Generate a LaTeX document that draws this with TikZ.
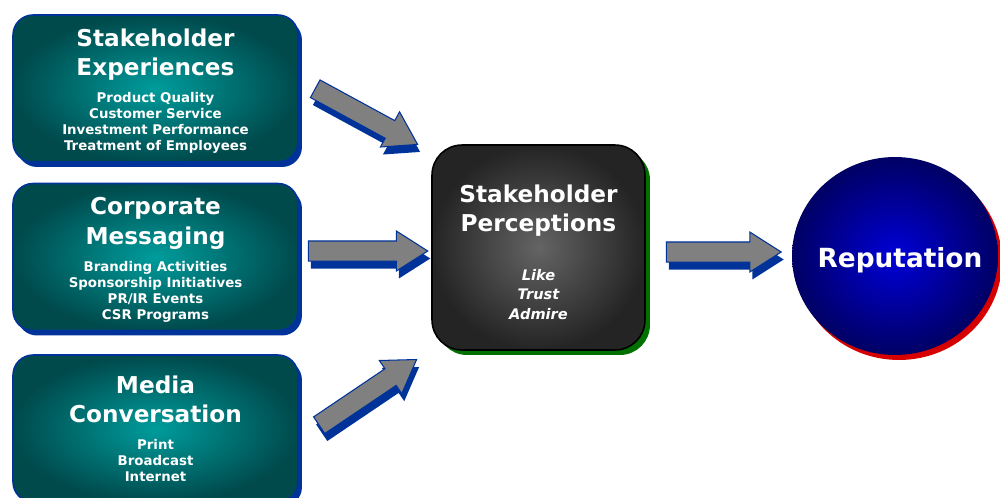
\documentclass[tikz,border=0pt]{standalone}
\usepackage{fontspec}
\setmainfont{DejaVu Sans}
\usetikzlibrary{arrows.meta, positioning, shapes.geometric, shapes.arrows, shadows, calc}

\definecolor{tealdark}{RGB}{0,74,76}
\definecolor{teallight}{RGB}{0,156,156}
\definecolor{rimblue}{RGB}{0,51,153}
\definecolor{greydark}{RGB}{36,36,36}
\definecolor{greylight}{RGB}{100,100,100}
\definecolor{shadegreen}{RGB}{0,112,0}
\definecolor{navydark}{RGB}{0,0,100}
\definecolor{navylight}{RGB}{0,0,215}
\definecolor{shadered}{RGB}{215,0,0}
\definecolor{arrowgrey}{RGB}{128,128,128}

\newcommand{\headfont}{\fontsize{13.2}{16.4}\selectfont\bfseries\upshape}
\newcommand{\itemfont}{\fontsize{7.6}{9.1}\selectfont\bfseries}
\newcommand{\feelfont}{\fontsize{8.3}{11.3}\selectfont\bfseries\itshape}

\begin{document}
\begin{tikzpicture}[x=0.02cm,y=-0.02cm,
  driver/.style={rectangle, rounded corners=0.4cm, minimum width=5.7cm, minimum height=2.94cm,
    draw=rimblue, line width=0.9pt, inner color=teallight, outer color=tealdark,
    text=white, align=center, font={\itemfont\lineskiplimit=-50pt},
    drop shadow={shadow xshift=0.08cm, shadow yshift=-0.1cm, fill=rimblue, opacity=1}},
  percbox/.style={rectangle, rounded corners=0.6cm, minimum width=4.26cm, minimum height=4.1cm,
    draw=black, line width=0.9pt, inner color=greylight, outer color=greydark,
    text=white, align=center, font={\feelfont\lineskiplimit=-50pt},
    drop shadow={shadow xshift=0.1cm, shadow yshift=-0.1cm, fill=shadegreen, opacity=1}},
  repball/.style={ellipse, minimum width=4.12cm, minimum height=3.96cm, inner sep=0pt,
    inner color=navylight, outer color=navydark, text=white,
    drop shadow={shadow xshift=0.08cm, shadow yshift=-0.1cm, fill=shadered, opacity=1}},
  blockarrow/.style={single arrow, draw=rimblue, fill=arrowgrey, line width=0.6pt,
    inner xsep=0pt, inner ysep=0.19cm, minimum width=0pt,
    single arrow head extend=0.2cm, single arrow tip angle=65, anchor=tail,
    drop shadow={shadow xshift=0.05cm, shadow yshift=-0.15cm, fill=rimblue, opacity=1}}]

  \clip (0,0) rectangle (1000,497);
  \fill[white] (0,0) rectangle (1000,497);

  % Drivers
  \node[driver] (exp) at (155.5,88.5)
    {\headfont Stakeholder\\[7.3pt]\headfont Experiences\\[6.4pt]Product Quality\\Customer Service\\Investment Performance\\Treatment of Employees\\[-10.7pt]};
  \node[driver] (msg) at (155.5,257)
    {\headfont Corporate\\[7.6pt]\headfont Messaging\\[6.4pt]Branding Activities\\Sponsorship Initiatives\\PR/IR Events\\CSR Programs\\[-10.7pt]};
  \node[driver] (media) at (155.5,428.5)
    {\headfont Media\\[7.3pt]\headfont Conversation\\[6.4pt]Print\\Broadcast\\Internet};

  % Perceptions and reputation
  \node[percbox] (perc) at (538.5,247.5)
    {\headfont Stakeholder\\[5.1pt]\headfont Perceptions\\[16.4pt]Like\\Trust\\Admire\\[-16.9pt]};
  \node[repball] (rep) at (895,256)
    {\makebox[0pt]{\hspace{0.2cm}\raisebox{-0.23cm}[0pt][0pt]{\fontsize{15}{18}\selectfont\bfseries Reputation}}};

  % Arrow ends
  \coordinate (s1) at ($(exp.east)+(16,0)$);
  \coordinate (e1) at ($(perc.north west)+(-14,0)$);
  \coordinate (s2) at ($(msg.east)+(9,-6)$);
  \coordinate (e2) at ($(perc.west)+(-4,3.5)$);
  \coordinate (s3) at ($(media.east)+(20,-3)$);
  \coordinate (e3) at ($(perc.south west)+(-15,9)$);
  \coordinate (s4) at ($(perc.east)+(20,4.5)$);
  \coordinate (e4) at ($(rep.west)+(-11,-4)$);

  % Block arrows
  \foreach \k in {1,2,3,4} {
    \path let \p1=($(e\k)-(s\k)$), \n1={atan2(\y1,\x1)}, \n2={veclen(\x1,\y1)} in
      node[blockarrow, minimum height=\n2, rotate=\n1] (flow\k) at (s\k) {};
  }
\end{tikzpicture}
\end{document}
